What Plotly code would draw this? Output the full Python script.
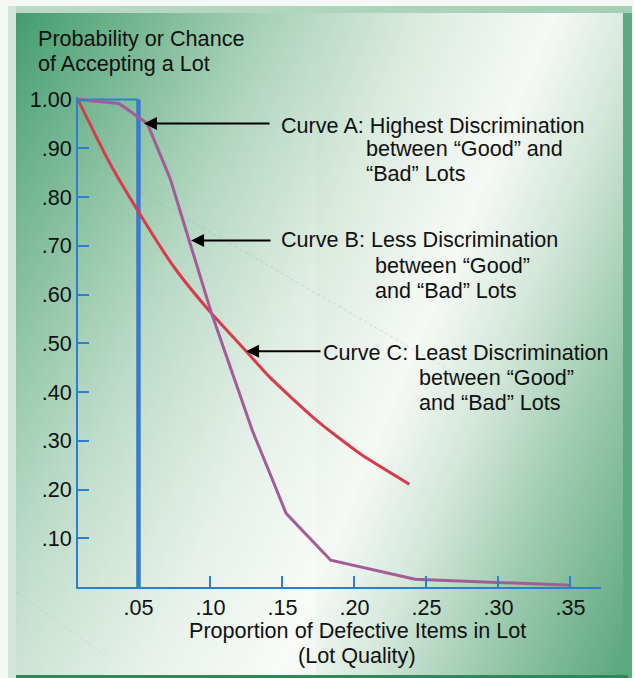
import base64
import plotly.graph_objects as go

# ---------------- data ----------------
curve_a_x = [0.008, 0.05, 0.05]
curve_a_y = [1.0, 1.0, 0.0]

curve_b_x = [0.008, 0.0365, 0.0561, 0.072, 0.1008, 0.129, 0.1432, 0.1525, 0.1835, 0.242, 0.3504]
curve_b_y = [1.0, 0.992, 0.951, 0.838, 0.561, 0.3215, 0.219, 0.151, 0.055, 0.016, 0.0035]

curve_c_x = [0.008, 0.03, 0.05, 0.075, 0.1008, 0.125, 0.1413, 0.1737, 0.2037, 0.2381]
curve_c_y = [1.0, 0.87, 0.77, 0.655, 0.561, 0.483, 0.430, 0.342, 0.274, 0.211]

x_tick_vals = [0.05, 0.10, 0.15, 0.20, 0.25, 0.30, 0.35]
x_tick_text = [".05", ".10", ".15", ".20", ".25", ".30", ".35"]
y_tick_vals = [0.1, 0.2, 0.3, 0.4, 0.5, 0.6, 0.7, 0.8, 0.9, 1.0]
y_tick_text = [".10", ".20", ".30", ".40", ".50", ".60", ".70", ".80", ".90", "1.00"]

# arrow tips (data coords) for the three curve labels
arrow_tip_x = [0.0538, 0.0865, 0.1247]
arrow_tip_y = [0.951, 0.711, 0.4836]

label_lines = [
    ["Curve A: Highest Discrimination", "between \u201cGood\u201d and", "\u201cBad\u201d Lots"],
    ["Curve B: Less Discrimination", "between \u201cGood\u201d", "and \u201cBad\u201d Lots"],
    ["Curve C: Least Discrimination", "between \u201cGood\u201d", "and \u201cBad\u201d Lots"],
]

# ---------------- layout geometry ----------------
W_FIG, H_FIG = 634, 678
L, R, T, B = 78, 33, 97, 91
PW, PH = W_FIG - L - R, H_FIG - T - B
X0 = 0.008
PX_PER_X = 1440.0
XR = [X0, X0 + PW / PX_PER_X]
YR = [0, PH / 487.4]


def px(xp):
    return (xp - L) / PW


def py(yp):
    return 1 - (yp - T) / PH


FONT = "Arial, 'Liberation Sans', Helvetica, sans-serif"
FS = 21.6
AXIS_BLUE = "#2a80cc"

# ---------------- background (SVG gradient) ----------------
svg = f"""<svg xmlns='http://www.w3.org/2000/svg' width='{W_FIG}' height='{H_FIG}' viewBox='0 0 {W_FIG} {H_FIG}'>
<defs>
<linearGradient id='g' gradientUnits='userSpaceOnUse' x1='0' y1='0' x2='781' y2='326'>
<stop offset='0.0' stop-color='#3a9868'/>
<stop offset='0.17' stop-color='#78b894'/>
<stop offset='0.31' stop-color='#add3bc'/>
<stop offset='0.47' stop-color='#dcebe0'/>
<stop offset='0.61' stop-color='#f6f9f5'/>
<stop offset='0.71' stop-color='#d3e7da'/>
<stop offset='0.83' stop-color='#9ccaae'/>
<stop offset='1.0' stop-color='#55a479'/>
</linearGradient>
<linearGradient id='v' x1='0' y1='0' x2='0' y2='1'>
<stop offset='0' stop-color='#ffffff' stop-opacity='0'/>
<stop offset='1' stop-color='#ffffff' stop-opacity='0.35'/>
</linearGradient>
<linearGradient id='tb' x1='0' y1='0' x2='1' y2='0'>
<stop offset='0' stop-color='#bcd9c7'/>
<stop offset='1' stop-color='#a3cfb4'/>
</linearGradient>
</defs>
<rect x='0' y='0' width='{W_FIG}' height='{H_FIG}' fill='#f4f8f5'/>
<rect x='8' y='6' width='8' height='{H_FIG-6}' fill='#d3e4da'/>
<rect x='16' y='6' width='616' height='8' fill='url(#tb)'/>
<rect x='16' y='13' width='607' height='662' fill='url(#g)'/>
<rect x='16' y='13' width='300' height='662' fill='url(#v)'/>
<rect x='623' y='13' width='9' height='665' fill='#5aab80'/>
<rect x='16' y='675' width='612' height='3' fill='#2b8b57'/>
</svg>"""
svg_uri = "data:image/svg+xml;base64," + base64.b64encode(svg.encode()).decode()

fig = go.Figure()

# Curve A: thin top, thick vertical
fig.add_trace(go.Scatter(x=curve_a_x[:2], y=curve_a_y[:2], mode="lines",
                         line=dict(color=AXIS_BLUE, width=2), hoverinfo="skip"))
fig.add_trace(go.Scatter(x=curve_a_x[1:], y=curve_a_y[1:], mode="lines",
                         line=dict(color="#3a7cc6", width=4.5), hoverinfo="skip"))
# Curve C (red)
fig.add_trace(go.Scatter(x=curve_c_x, y=curve_c_y, mode="lines",
                         line=dict(color="#d63c4a", width=3, shape="spline", smoothing=0.6),
                         hoverinfo="skip"))
# Curve B (purple)
fig.add_trace(go.Scatter(x=curve_b_x, y=curve_b_y, mode="lines",
                         line=dict(color="#a45c98", width=3), hoverinfo="skip"))

annotations = []
# arrows
tails_px = [271, 272, 322]
for tx, ty, tail in zip(arrow_tip_x, arrow_tip_y, tails_px):
    tip_px = L + (tx - X0) * PX_PER_X
    annotations.append(dict(x=tx, y=ty, xref="x", yref="y", text="", showarrow=True,
                            arrowhead=2, arrowsize=1.3, arrowwidth=2, arrowcolor="#000",
                            ax=tail - tip_px, ay=0, axref="pixel", ayref="pixel"))

# label texts
label_pos = [
    [(280, 125), (365, 149), (365, 173)],
    [(280, 240), (374, 265), (374, 290)],
    [(322, 352), (418, 377), (418, 402)],
]
for lines, poss in zip(label_lines, label_pos):
    for txt, (xp, yp) in zip(lines, poss):
        annotations.append(dict(x=px(xp), y=py(yp), xref="paper", yref="paper", text=txt,
                                showarrow=False, xanchor="left", yanchor="middle", borderpad=0,
                                font=dict(family=FONT, size=FS, color="#111")))

# axis titles
for txt, (xp, yp) in zip(["Probability or Chance", "of Accepting a Lot"], [(37, 39), (37, 63)]):
    annotations.append(dict(x=px(xp), y=py(yp), xref="paper", yref="paper", text=txt,
                            showarrow=False, xanchor="left", yanchor="middle", borderpad=0,
                            font=dict(family=FONT, size=FS, color="#111")))
for txt, (xp, yp) in zip(["Proportion of Defective Items in Lot", "(Lot Quality)"], [(357, 630), (357, 655)]):
    annotations.append(dict(x=px(xp), y=py(yp), xref="paper", yref="paper", text=txt,
                            showarrow=False, xanchor="center", yanchor="middle", borderpad=0,
                            font=dict(family=FONT, size=FS, color="#111")))

shapes = [
    dict(type="line", xref="paper", yref="paper", x0=px(16), y0=py(120), x1=px(470), y1=py(382),
         line=dict(color="rgba(150,150,150,0.3)", width=1, dash="dot"), layer="below"),
    dict(type="line", xref="paper", yref="paper", x0=px(16), y0=py(592), x1=px(105), y1=py(655),
         line=dict(color="rgba(170,170,170,0.3)", width=1, dash="dot"), layer="below"),
]

fig.update_layout(
    width=W_FIG, height=H_FIG,
    margin=dict(l=L, r=R, t=T, b=B, pad=0),
    paper_bgcolor="rgba(0,0,0,0)", plot_bgcolor="rgba(0,0,0,0)",
    showlegend=False,
    font=dict(family=FONT, size=FS, color="#111"),
    images=[dict(source=svg_uri, xref="paper", yref="paper",
                 x=-L / PW, y=1 + T / PH, sizex=W_FIG / PW, sizey=H_FIG / PH,
                 xanchor="left", yanchor="top", sizing="stretch", layer="below")],
    annotations=annotations,
    shapes=shapes,
    xaxis=dict(range=XR, showgrid=False, zeroline=False, showline=True, linecolor=AXIS_BLUE,
               linewidth=2, ticks="inside", ticklen=11, tickwidth=2, tickcolor=AXIS_BLUE,
               tickvals=x_tick_vals, ticktext=x_tick_text, tickfont=dict(size=FS, color="#111"),
               fixedrange=True),
    yaxis=dict(range=YR, showgrid=False, zeroline=False, showline=True, linecolor=AXIS_BLUE,
               linewidth=2, ticks="inside", ticklen=11, tickwidth=2, tickcolor=AXIS_BLUE,
               tickvals=y_tick_vals, ticktext=y_tick_text, tickfont=dict(size=FS, color="#111"),
               fixedrange=True),
)

fig.write_html("out.html", config={"displayModeBar": False},
               post_script="document.body.style.margin='0';document.body.style.overflow='hidden';")
